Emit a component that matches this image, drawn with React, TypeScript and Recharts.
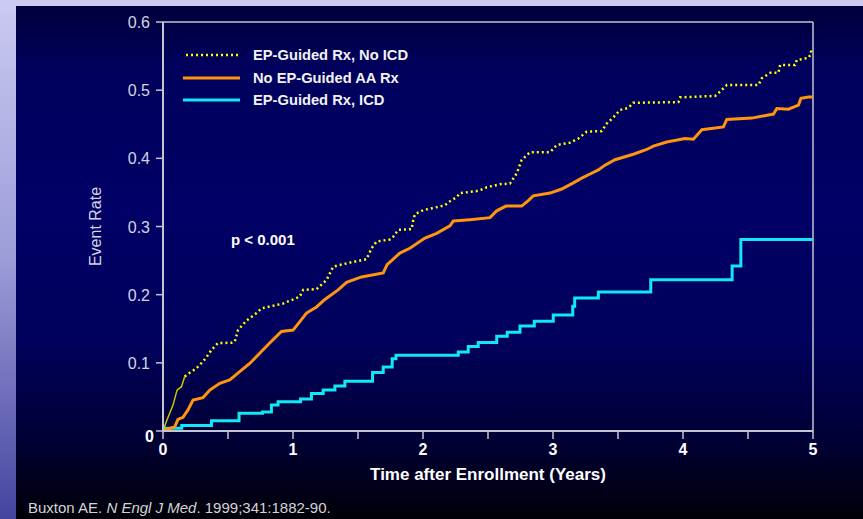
import { LineChart, Line, XAxis, YAxis, ReferenceLine, Legend } from 'recharts';

// Kaplan-Meier style event curves (years, cumulative event rate)
const icdYears = [0, 0.144, 0.373, 0.585, 0.765, 0.834, 0.885, 1.058, 1.142, 1.232, 1.322, 1.399, 1.612, 1.694, 1.763, 1.792, 2.271, 2.348, 2.425, 2.567, 2.648, 2.746, 2.856, 3.002, 3.152, 3.167, 3.349, 3.752, 4.378, 4.445, 5];
const icdRate = [0.004, 0.008, 0.015, 0.026, 0.028, 0.038, 0.043, 0.047, 0.055, 0.06, 0.066, 0.073, 0.086, 0.094, 0.106, 0.111, 0.116, 0.124, 0.13, 0.139, 0.145, 0.154, 0.161, 0.17, 0.183, 0.195, 0.204, 0.222, 0.242, 0.281, 0.281];

const aaYears = [0, 0.038, 0.09, 0.115, 0.154, 0.192, 0.231, 0.308, 0.36, 0.437, 0.513, 0.59, 0.667, 0.744, 0.821, 0.911, 1.001, 1.104, 1.181, 1.245, 1.347, 1.412, 1.527, 1.694, 1.724, 1.822, 1.899, 2.015, 2.105, 2.207, 2.233, 2.361, 2.515, 2.567, 2.638, 2.759, 2.81, 2.848, 2.977, 3.067, 3.156, 3.221, 3.285, 3.349, 3.4, 3.477, 3.618, 3.721, 3.772, 3.875, 4.016, 4.08, 4.145, 4.311, 4.337, 4.53, 4.696, 4.722, 4.811, 4.888, 4.907, 4.965, 5];
const aaRate = [0, 0.003, 0.006, 0.017, 0.02, 0.031, 0.0455, 0.049, 0.06, 0.07, 0.075, 0.087, 0.099, 0.114, 0.129, 0.146, 0.148, 0.173, 0.182, 0.193, 0.207, 0.218, 0.226, 0.232, 0.244, 0.261, 0.268, 0.283, 0.29, 0.301, 0.308, 0.31, 0.313, 0.323, 0.33, 0.33, 0.338, 0.345, 0.349, 0.355, 0.364, 0.371, 0.377, 0.383, 0.39, 0.398, 0.406, 0.413, 0.418, 0.424, 0.429, 0.428, 0.442, 0.446, 0.457, 0.459, 0.465, 0.473, 0.472, 0.478, 0.488, 0.49, 0.49];

const noIcdYears = [0, 0.026, 0.077, 0.108, 0.142, 0.167, 0.206, 0.257, 0.308, 0.346, 0.373, 0.423, 0.527, 0.552, 0.577, 0.642, 0.719, 0.758, 0.924, 1.052, 1.078, 1.181, 1.258, 1.309, 1.36, 1.437, 1.566, 1.604, 1.643, 1.745, 1.771, 1.809, 1.912, 1.925, 1.938, 2.002, 2.169, 2.194, 2.259, 2.284, 2.413, 2.463, 2.49, 2.592, 2.669, 2.721, 2.759, 2.823, 2.977, 3.029, 3.131, 3.195, 3.259, 3.375, 3.413, 3.464, 3.516, 3.58, 3.618, 3.965, 3.978, 4.247, 4.286, 4.337, 4.58, 4.607, 4.671, 4.734, 4.747, 4.862, 4.875, 4.965, 4.984, 4.986, 5];
const noIcdRate = [0, 0.014, 0.038, 0.06, 0.065, 0.08, 0.0855, 0.092, 0.102, 0.1115, 0.119, 0.129, 0.1295, 0.131, 0.148, 0.162, 0.173, 0.18, 0.187, 0.197, 0.207, 0.208, 0.2215, 0.241, 0.2435, 0.247, 0.252, 0.268, 0.278, 0.281, 0.285, 0.295, 0.296, 0.3095, 0.318, 0.324, 0.331, 0.3355, 0.343, 0.349, 0.352, 0.355, 0.3575, 0.362, 0.363, 0.378, 0.3975, 0.409, 0.409, 0.4195, 0.423, 0.429, 0.439, 0.44, 0.451, 0.46, 0.471, 0.474, 0.4815, 0.4825, 0.4895, 0.4915, 0.498, 0.5075, 0.5075, 0.5175, 0.5255, 0.5255, 0.537, 0.537, 0.544, 0.5475, 0.553, 0.56, 0.56];
// the first few points of the no-ICD curve are drawn as a thin solid line on the slide
const noIcdSolidUntil = 5;

const yearTicks = [0, 0.5, 1, 1.5, 2, 2.5, 3, 3.5, 4, 4.5, 5];
const rateTicks = [0, 0.1, 0.2, 0.3, 0.4, 0.5, 0.6];

const seriesNames = ['EP-Guided Rx, No ICD', 'No EP-Guided AA Rx', 'EP-Guided Rx, ICD'];

const FONT = '"Liberation Sans", Arial, sans-serif';
const AXIS = '#c4c4d4';
const YELLOW = '#ffff00';
const ORANGE = '#ff9410';
const CYAN = '#10e8f4';

const toPoints = (ts: number[], vs: number[]) => ts.map((t, i) => ({ t, v: vs[i] }));

const icdData = toPoints(icdYears, icdRate);
const aaData = toPoints(aaYears, aaRate);
const noIcdData = toPoints(noIcdYears, noIcdRate);

function XTick(props: any) {
  const { x, y, payload } = props;
  if (!Number.isInteger(payload.value)) return <g />;
  return (
    <text x={x} y={y} dy={14} textAnchor="middle" fill="#fff" fontSize={16} fontWeight="bold" fontFamily={FONT}>
      {payload.value}
    </text>
  );
}

function YTick(props: any) {
  const { x, y, payload } = props;
  if (payload.value === 0) {
    return (
      <text x={x} y={y} dx={4} dy={11} textAnchor="end" fill="#fff" fontSize={16} fontWeight="bold" fontFamily={FONT}>
        0
      </text>
    );
  }
  return (
    <text x={x} y={y} dy={6} textAnchor="end" fill="#d4d4e0" fontSize={16} fontFamily={FONT}>
      {payload.value.toFixed(1)}
    </text>
  );
}

function LegendBox() {
  const styles = [
    { color: YELLOW, dash: '2 3', inset: 3 },
    { color: ORANGE, dash: undefined, inset: 0 },
    { color: CYAN, dash: undefined, inset: 0 },
  ];
  return (
    <div style={{ fontFamily: FONT }}>
      {seriesNames.map((name, i) => (
        <div key={name} style={{ display: 'flex', alignItems: 'center', height: 22.5 }}>
          <svg width={58} height={10}>
            <line x1={styles[i].inset} x2={57} y1={5} y2={5} stroke={styles[i].color} strokeWidth={i === 0 ? 2.5 : 3} strokeDasharray={styles[i].dash} />
          </svg>
          <span style={{ marginLeft: 12, color: '#f2f2f2', fontWeight: 'bold', fontSize: 14.7 }}>{name}</span>
        </div>
      ))}
    </div>
  );
}

export default function App() {
  return (
    <div
      style={{
        position: 'relative',
        width: 863,
        height: 519,
        overflow: 'hidden',
        background: 'linear-gradient(to bottom, #cacaf2 0%, #9c9cd8 50%, #4444a0 100%)',
      }}
    >
      <style>{'body{margin:0}'}</style>
      <div
        style={{
          position: 'absolute',
          left: 16,
          top: 6,
          width: 847,
          height: 513,
          background: 'linear-gradient(to bottom, #00003c 0%, #00005c 12%, #000066 40%, #00005c 65%, #000034 85%, #000008 100%)',
        }}
      />
      <div style={{ position: 'absolute', left: 0, top: 0 }}>
        <LineChart width={863} height={519} margin={{ top: 22, right: 50, bottom: 48, left: 100 }}>
          <XAxis
            dataKey="t"
            type="number"
            domain={[0, 5]}
            ticks={yearTicks}
            interval={0}
            tick={<XTick />}
            tickSize={8}
            tickMargin={2}
            height={40}
            stroke={AXIS}
            strokeWidth={2}
            tickLine={{ stroke: AXIS, strokeWidth: 1.5 }}
          />
          <YAxis
            type="number"
            domain={[0, 0.6]}
            ticks={rateTicks}
            interval={0}
            tick={<YTick />}
            tickSize={7}
            tickMargin={6}
            width={63}
            stroke={AXIS}
            strokeWidth={2}
            tickLine={{ stroke: AXIS, strokeWidth: 1.5 }}
            label={({ viewBox }: any) => (
              <text
                x={viewBox.x - 5}
                y={viewBox.y + viewBox.height / 2}
                transform={`rotate(-90 ${viewBox.x - 5} ${viewBox.y + viewBox.height / 2})`}
                textAnchor="middle"
                dominantBaseline="central"
                fill="#d4d4e0"
                fontSize={16}
                fontFamily={FONT}
              >
                Event Rate
              </text>
            )}
          />
          <ReferenceLine y={0.6} stroke={AXIS} strokeWidth={1.5} />
          <ReferenceLine x={5} stroke={AXIS} strokeWidth={1.5} />
          <Legend
            layout="horizontal"
            verticalAlign="middle"
            align="center"
            content={() => <LegendBox />}
            wrapperStyle={{ top: 44, left: 183, width: 320, height: 70 }}
          />
          <Line
            data={icdData}
            dataKey="v"
            type="stepAfter"
            stroke={CYAN}
            strokeWidth={3}
            dot={false}
            activeDot={false}
            isAnimationActive={false}
          />
          <Line
            data={aaData}
            dataKey="v"
            type="linear"
            stroke={ORANGE}
            strokeWidth={3}
            dot={false}
            activeDot={false}
            isAnimationActive={false}
          />
          <Line
            data={noIcdData.slice(0, noIcdSolidUntil + 1)}
            dataKey="v"
            type="linear"
            stroke="#c8c800"
            strokeWidth={1.5}
            dot={false}
            activeDot={false}
            isAnimationActive={false}
          />
          <Line
            data={noIcdData.slice(noIcdSolidUntil)}
            dataKey="v"
            type="linear"
            stroke={YELLOW}
            strokeWidth={2.5}
            strokeDasharray="2 3"
            dot={false}
            activeDot={false}
            isAnimationActive={false}
          />
        </LineChart>
      </div>
      <div
        style={{ position: 'absolute', left: 231, top: 231, color: '#fff', fontWeight: 'bold', fontSize: 15, fontFamily: FONT }}
      >
        p &lt; 0.001
      </div>
      <div
        style={{
          position: 'absolute',
          left: 163,
          width: 650,
          top: 465,
          textAlign: 'center',
          color: '#fff',
          fontWeight: 'bold',
          fontSize: 17,
          fontFamily: FONT,
        }}
      >
        Time after Enrollment (Years)
      </div>
      <div style={{ position: 'absolute', left: 28, top: 499, color: '#d4d4d4', fontSize: 15, fontFamily: FONT }}>
        Buxton AE. <i>N Engl J Med</i>. 1999;341:1882-90.
      </div>
    </div>
  );
}
